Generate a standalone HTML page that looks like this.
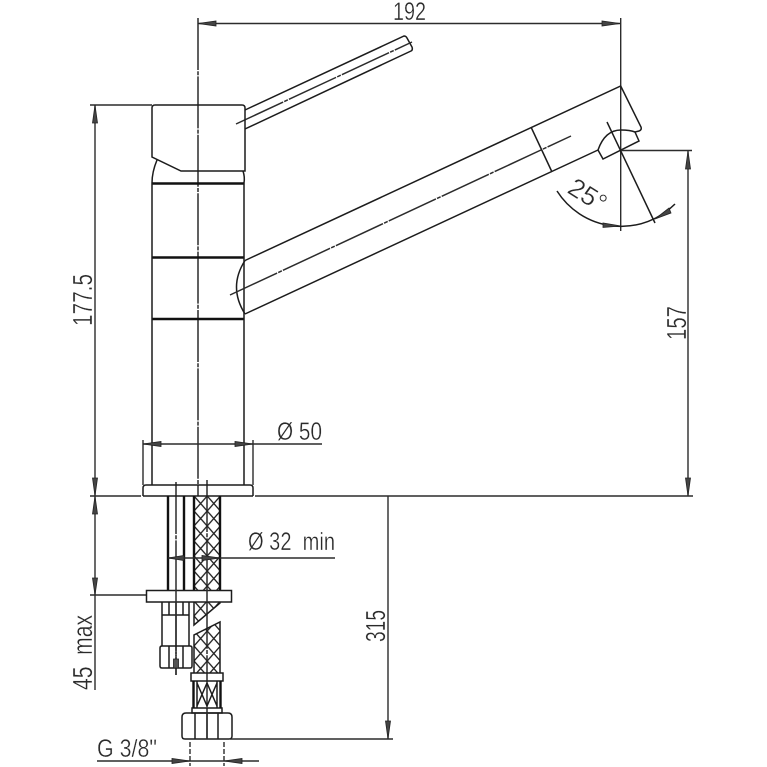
<!DOCTYPE html>
<html><head><meta charset="utf-8"><style>
html,body{margin:0;padding:0;background:#fff}
svg{display:block}
text{font-family:"Liberation Sans",sans-serif;fill:#2a2a2a;stroke:#fff;stroke-width:.35;paint-order:fill;font-size:25px}
text.v{font-size:28px}
.l{fill:none;stroke:#1c1c1c;stroke-width:1.5}
.t{fill:none;stroke:#111;stroke-width:2.4}
.d{fill:none;stroke:#2c2c2c;stroke-width:1.4}
.c{fill:none;stroke:#2c2c2c;stroke-width:1.5;stroke-dasharray:52 1.2 4 1.2}
.a{fill:#444;stroke:#222;stroke-width:.8}
</style></head><body>
<svg width="767" height="767" viewBox="0 0 767 767" xmlns="http://www.w3.org/2000/svg">
<defs>
<pattern id="br" width="13.2" height="15" patternUnits="userSpaceOnUse" x="194" y="496">
<path d="M0 0L13.2 15M13.2 0L0 15" stroke="#222" stroke-width="1.35" fill="none"/>
</pattern>
<clipPath id="bc1"><rect x="194" y="496" width="26" height="94"/></clipPath>
<clipPath id="bc2"><polygon points="194,602 220,602 220,603 194,625"/></clipPath>
<clipPath id="bc3"><polygon points="194,635 220,622 220,673 194,673"/></clipPath>
</defs>

<!-- centre lines -->
<path class="c" d="M198 18V496"/>
<path class="d" d="M620.7 18V231"/>
<path class="c" d="M176 482V675"/>
<path class="c" d="M207 480V739"/>

<!-- lever -->
<path class="l" d="M245 110L404 36Q406 36 407 38L412 47Q413 50 411 51L245 129"/>
<path class="c" d="M236 124L412 42"/>

<!-- head -->
<path class="l" d="M152 108Q152 105 155 105H242Q245 105 245 108V171H181L152 157Z"/>
<path class="l" d="M157 160Q152 172 152 183M243 171Q245 177 244 183"/>
<path class="t" d="M152 183.5H244M152 257.5H244M152 319H244"/>
<path class="l" d="M152 183V485M244 183V485"/>

<!-- spout -->
<path class="l" d="M245 260.5L620.7 86L641 127Q642 130 639 131L635 132Q630 130 621 130Q605 130 598 150L245 314"/>
<path class="l" d="M245 260.500Q228 287 245 314"/>
<path class="c" d="M230 295L571 136"/>
<path class="l" d="M531 127L552 172"/>
<path class="l" d="M598 150L603 159L639 141L635 132"/>

<!-- 25 degree -->
<path class="l" d="M607 122L655 223"/>
<path class="l" d="M557 191A76 76 0 0 0 675 204"/>
<polygon class="a" points="621,226 603,227.5 603,223"/>
<polygon class="a" points="655,219 669,208 671,213"/>
<text transform="translate(566 192) rotate(32)" textLength="40" lengthAdjust="spacingAndGlyphs" style="font-size:26px">25°</text>

<!-- 157 -->
<path class="d" d="M621 150.5H692M688 150V496"/>
<polygon class="a" points="688,151 685.5,169 690.5,169"/>
<polygon class="a" points="688,496 685.5,478 690.5,478"/>
<text class="v" transform="translate(686 340) rotate(-90)" textLength="34" lengthAdjust="spacingAndGlyphs">157</text>

<!-- 192 -->
<path class="d" d="M198 23.5H620"/>
<polygon class="a" points="198,23.5 216,21 216,26"/>
<polygon class="a" points="620,23.5 602,21 602,26"/>
<text x="393" y="20" textLength="33" lengthAdjust="spacingAndGlyphs">192</text>

<!-- left dims -->
<path class="d" d="M90 105H152M95 105V690M90 595H146"/>
<polygon class="a" points="95,105 92.5,123 97.5,123"/>
<polygon class="a" points="95,496 92.5,478 97.5,478"/>
<polygon class="a" points="95,496 92.5,514 97.5,514"/>
<polygon class="a" points="95,595 92.5,578 97.5,578"/>
<text class="v" transform="translate(92 326) rotate(-90)" textLength="52" lengthAdjust="spacingAndGlyphs">177.5</text>
<text class="v" transform="translate(92 690) rotate(-90)" textLength="75" lengthAdjust="spacingAndGlyphs">45&#160;&#160;max</text>

<!-- base -->
<path class="l" d="M143 496V488Q143 485 146 485H250Q253 485 253 488V496"/>
<path class="d" d="M90 496H141M255 496H693"/>
<path class="l" d="M143 496H253"/>
<path class="d" d="M143 440V485M253 440V485M143 444H322"/>
<polygon class="a" points="143,444 161,441.5 161,446.5"/>
<polygon class="a" points="253,444 235,441.5 235,446.5"/>
<text x="277" y="440" textLength="45" lengthAdjust="spacingAndGlyphs">Ø 50</text>

<!-- tube -->
<path class="t" d="M168 496V590M184 496V590"/>
<!-- braid -->
<g clip-path="url(#bc1)"><rect x="194" y="496" width="26" height="94" fill="url(#br)"/></g>
<path class="t" d="M194 496V590M220 496V590"/>
<g clip-path="url(#bc2)"><rect x="194" y="602" width="26" height="24" fill="url(#br)"/></g>
<path class="l" d="M194 602V625L220 603V602"/>
<g clip-path="url(#bc3)"><rect x="194" y="620" width="26" height="54" fill="url(#br)"/></g>
<path class="l" d="M194 673V635L220 622V673"/>

<!-- 32 -->
<path class="d" d="M168 558H335"/>
<polygon class="a" points="168,558 184,555.5 184,560.5"/>
<polygon class="a" points="220,558 202,555.5 202,560.5"/>
<text x="248" y="550" textLength="87" lengthAdjust="spacingAndGlyphs">Ø 32&#160;&#160;min</text>

<!-- washer -->
<rect class="l" x="146.500" y="590.500" width="85" height="11.500" style="fill:#fff"/>
<path class="c" d="M176 590V602M207 590V602"/>

<!-- fitting -->
<path class="l" d="M162 602V646M189 602V646M162 615H189M169 602V615M183 602V615"/>
<path class="c" d="M176 602V675"/>
<path class="l" d="M162 646H190Q192 646 192 648V666Q192 668 190 668H162Q160 668 160 666V648Q160 646 162 646ZM169 646V668M183 646V668"/>
<rect x="173.500" y="659" width="5" height="9" fill="#555" stroke="#222" stroke-width=".8"/>

<!-- connector -->
<path class="l" d="M191 673H223V681H191ZM192 708H222V713H192Z"/>
<path class="t" d="M193.500 681V708M220.500 681V708"/>
<path class="l" d="M197 681V708M217 681V708M207 683L197 706M197 683L207 706M217 683L207 706M207 683L217 706"/>
<path class="l" d="M186 713H228Q232 713 232 717V736Q232 739 229 739H185Q182 739 182 736V717Q182 713 186 713ZM195 713V739M218 713V739"/>
<path class="c" d="M207 713V739"/>

<!-- 315 -->
<path class="d" d="M230 739H393M388 496V739"/>
<polygon class="a" points="388,739 385.500,721 390.500,721"/>
<text class="v" transform="translate(385 642) rotate(-90)" textLength="32" lengthAdjust="spacingAndGlyphs">315</text>

<!-- G 3/8 -->
<path class="d" d="M97 761H259"/>
<path class="d" d="M190 742V766M224 742V766" stroke-dasharray="5 2"/>
<polygon class="a" points="190,761 172,758.500 172,763.500"/>
<polygon class="a" points="224,761 242,758.500 242,763.500"/>
<text x="97" y="757" textLength="60" lengthAdjust="spacingAndGlyphs">G 3/8"</text>
</svg>
</body></html>
